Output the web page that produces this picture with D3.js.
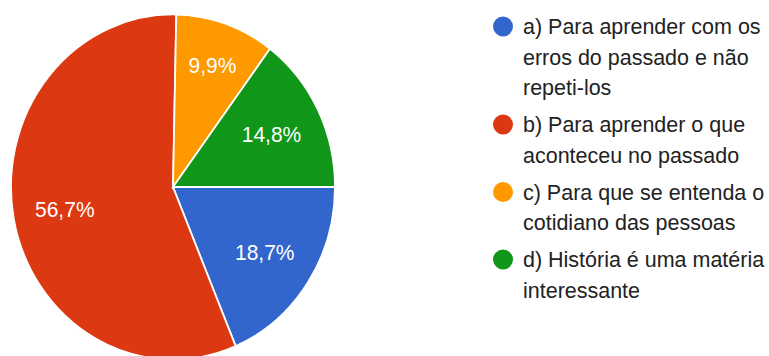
<!DOCTYPE html>
<html>
<head>
<meta charset="utf-8">
<script src="https://cdn.jsdelivr.net/npm/d3@7"></script>
<style>
  body { margin: 0; background: #fff; }
  text { font-family: Arial, "Liberation Sans", sans-serif; }
</style>
</head>
<body>
<div id="chart"></div>
<script>
// answers, in legend order
var categories = ["a", "b", "c", "d"];
var values = [18.7, 56.7, 9.9, 14.8];
var labels = ["18,7%", "56,7%", "9,9%", "14,8%"];
var legendLines = [
	["a) Para aprender com os", "erros do passado e não", "repeti-los"],
	["b) Para aprender o que", "aconteceu no passado"],
	["c) Para que se entenda o", "cotidiano das pessoas"],
	["d) História é uma matéria", "interessante"]
];
var colors = ["#3366cc", "#dc3912", "#ff9900", "#109618"];

var width = 769, height = 356;
var cx = 173, cy = 187, radius = 162, squash = 1.065;

var svg = d3.select("#chart")
	.append("svg")
	.attr("width", width)
	.attr("height", height);

var color = d3.scaleOrdinal().domain(categories).range(colors);

// first slice starts at 3 o'clock, clockwise
var pie = d3.pie()
	.sort(null)
	.startAngle(Math.PI / 2)
	.endAngle(Math.PI / 2 + 2 * Math.PI)
	.value(function(d) { return d; });

var arcs = pie(values);
var arc = d3.arc().innerRadius(0).outerRadius(radius);

var pieG = svg.append("g")
	.attr("transform", "translate(" + cx + "," + cy + ") scale(1," + squash + ")");

pieG.selectAll("path")
	.data(arcs)
	.enter()
	.append("path")
	.attr("d", arc)
	.attr("fill", function(d, i) { return color(categories[i]); })
	.attr("stroke", "#fff")
	.attr("stroke-width", 1.8)
	.attr("vector-effect", "non-scaling-stroke");

// slice labels
svg.selectAll(".slice-label")
	.data(arcs)
	.enter()
	.append("text")
	.attr("class", "slice-label")
	.attr("transform", function(d) {
		var r = d.value < 12 ? radius * 0.75 : radius * 0.68;
		var c = d3.arc().innerRadius(r).outerRadius(r).centroid(d);
		return "translate(" + (cx + c[0]) + "," + (cy + c[1] * squash) + ") scale(1," + squash + ")";
	})
	.attr("text-anchor", "middle")
	.attr("dy", "0.36em")
	.style("font-size", "21px")
	.style("fill", "#fff")
	.text(function(d, i) { return labels[i]; });

// legend
var legendX = 503, textX = 523, firstBase = 34, lineH = 30.5, itemGap = 37;
var legend = svg.append("g");
var y = firstBase;
legendLines.forEach(function(lines, i) {
	legend.append("circle")
		.attr("cx", legendX)
		.attr("cy", y - 7.5)
		.attr("r", 10)
		.attr("fill", color(categories[i]));
	lines.forEach(function(line, j) {
		legend.append("text")
			.attr("transform", "translate(" + textX + "," + (y + j * lineH) + ") scale(1," + squash + ")")
			.style("font-size", "21.5px")
			.style("fill", "#222")
			.text(line);
	});
	y += (lines.length - 1) * lineH + itemGap;
});
</script>
</body>
</html>
